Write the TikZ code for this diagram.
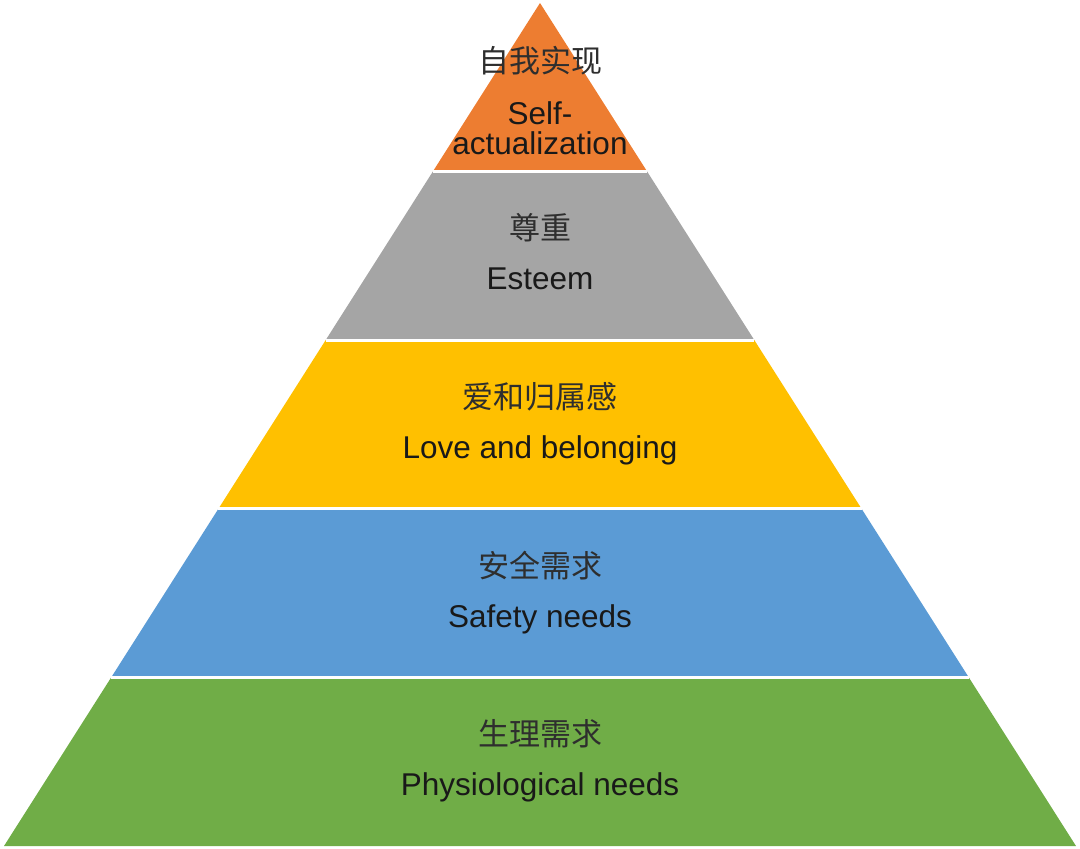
\documentclass[tikz,border=0pt]{standalone}
\usepackage{fontspec}
\setmainfont{Liberation Sans}
\newfontfamily\cjk{Noto Sans CJK SC}
\usetikzlibrary{calc}
\definecolor{selforange}{HTML}{ED7D31}
\definecolor{esteemgray}{HTML}{A5A5A5}
\definecolor{loveyellow}{HTML}{FFC000}
\definecolor{safetyblue}{HTML}{5B9BD5}
\definecolor{physgreen}{HTML}{70AD47}
\tikzset{
  zh/.style={anchor=base, font=\cjk\fontsize{31}{31}\selectfont, text=black!82},
  en/.style={anchor=base, align=center, font=\fontsize{31.5}{30}\selectfont, text=black!90},
}
\begin{document}
\begin{tikzpicture}[x=1pt, y=-1pt, every node/.style={inner sep=0pt}]
  \useasboundingbox (0,0) rectangle (1080,849);
  \coordinate (apex) at (540,3);
  \coordinate (baseleft) at (4,846);
  \coordinate (baseright) at (1076,846);
  % five bands, top down
  \foreach \col [count=\i from 0] in {selforange, esteemgray, loveyellow, safetyblue, physgreen} {
    \pgfmathsetmacro\ta{\i/5}
    \pgfmathsetmacro\tb{(\i+1)/5}
    \fill[\col] ($(apex)!\ta!(baseleft)$) -- ($(apex)!\tb!(baseleft)$)
      -- ($(apex)!\tb!(baseright)$) -- ($(apex)!\ta!(baseright)$) -- cycle;
  }
  % white gaps between bands
  \foreach \t in {0.2,0.4,0.6,0.8}
    \draw[white, line width=3pt] ($(apex)!\t!(baseleft)$) -- ($(apex)!\t!(baseright)$);
  % labels
  \node[zh] (selfzh) at (540,72) {自我实现};
  \node[en] (selfen) at (540,154) {Self-\\actualization};
  \node[zh] (esteemzh) at (540,239) {尊重};
  \node[en] (esteemen) at (540,289) {Esteem};
  \node[zh] (lovezh) at (540,408) {爱和归属感};
  \node[en] (loveen) at (540,458) {Love and belonging};
  \node[zh] (safetyzh) at (540,577) {安全需求};
  \node[en] (safetyen) at (540,627) {Safety needs};
  \node[zh] (physzh) at (540,745) {生理需求};
  \node[en] (physen) at (540,795) {Physiological needs};
\end{tikzpicture}
\end{document}
